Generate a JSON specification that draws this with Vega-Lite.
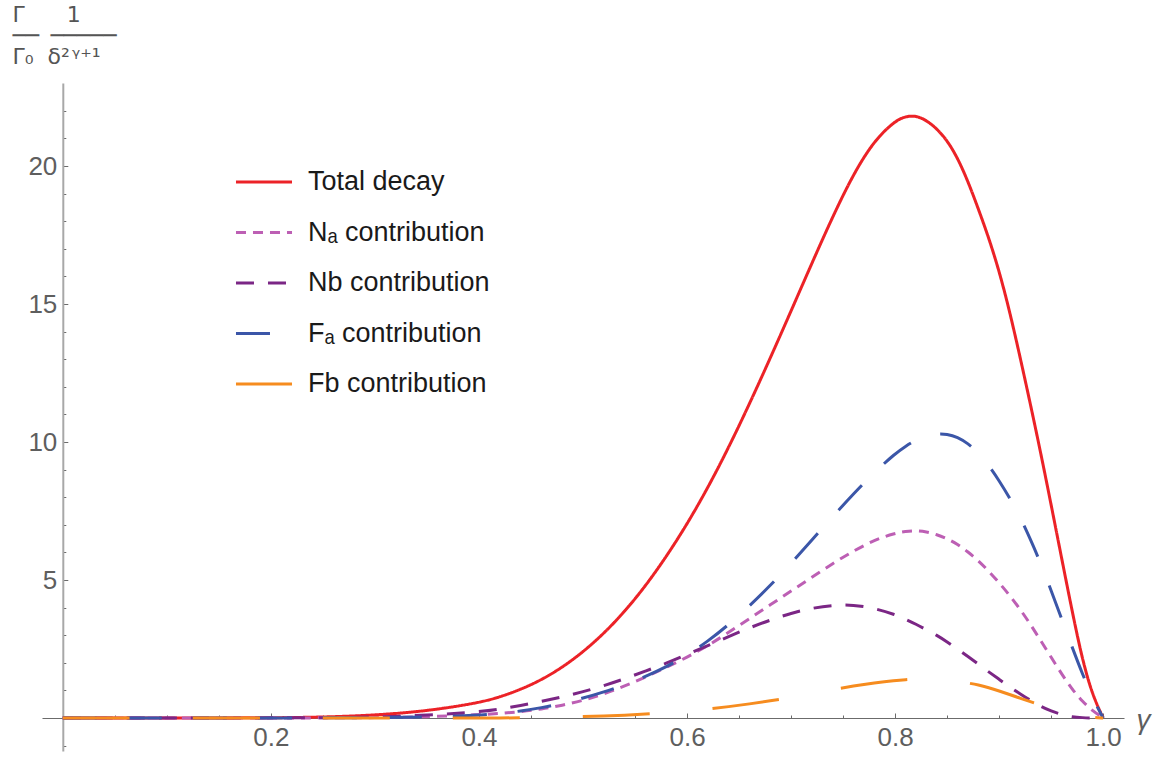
{
  "$schema": "https://vega.github.io/schema/vega-lite/v6.json",
  "width": 1082,
  "height": 668,
  "autosize": {"type": "none"},
  "padding": {"left": 42, "top": 83, "right": 31, "bottom": 10},
  "background": "white",
  "config": {"view": {"stroke": null}, "font": "Liberation Sans"},
  "data": {
    "values": [
      {"x": 0, "T": 0, "Na": 0, "Nb": 0, "Fa": 0, "Fb": 0},
      {"x": 0.1, "T": 0, "Na": 0, "Nb": 0, "Fa": 0, "Fb": 0},
      {"x": 0.2, "T": 0.005, "Na": 0, "Nb": 0.003, "Fa": 0, "Fb": 0},
      {"x": 0.25, "T": 0.03, "Na": 0.005, "Nb": 0.01, "Fa": 0.005, "Fb": 0},
      {"x": 0.3, "T": 0.1, "Na": 0.01, "Nb": 0.03, "Fa": 0.01, "Fb": 0},
      {"x": 0.35, "T": 0.25, "Na": 0.04, "Nb": 0.1, "Fa": 0.03, "Fb": 0},
      {"x": 0.4, "T": 0.55, "Na": 0.12, "Nb": 0.22, "Fa": 0.1, "Fb": 0},
      {"x": 0.42, "T": 0.76, "Na": 0.16, "Nb": 0.32, "Fa": 0.16, "Fb": 0.003},
      {"x": 0.44, "T": 1.03, "Na": 0.23, "Nb": 0.45, "Fa": 0.25, "Fb": 0.006},
      {"x": 0.46, "T": 1.38, "Na": 0.32, "Nb": 0.6, "Fa": 0.37, "Fb": 0.01},
      {"x": 0.48, "T": 1.83, "Na": 0.46, "Nb": 0.76, "Fa": 0.52, "Fb": 0.03},
      {"x": 0.5, "T": 2.39, "Na": 0.63, "Nb": 0.95, "Fa": 0.72, "Fb": 0.05},
      {"x": 0.52, "T": 3.06, "Na": 0.87, "Nb": 1.17, "Fa": 0.94, "Fb": 0.07},
      {"x": 0.54, "T": 3.85, "Na": 1.16, "Nb": 1.42, "Fa": 1.2, "Fb": 0.1},
      {"x": 0.56, "T": 4.78, "Na": 1.48, "Nb": 1.7, "Fa": 1.5, "Fb": 0.14},
      {"x": 0.58, "T": 5.84, "Na": 1.83, "Nb": 1.98, "Fa": 1.85, "Fb": 0.19},
      {"x": 0.6, "T": 7.02, "Na": 2.2, "Nb": 2.3, "Fa": 2.27, "Fb": 0.25},
      {"x": 0.62, "T": 8.34, "Na": 2.62, "Nb": 2.62, "Fa": 2.78, "Fb": 0.32},
      {"x": 0.64, "T": 9.8, "Na": 3.1, "Nb": 2.95, "Fa": 3.38, "Fb": 0.41},
      {"x": 0.66, "T": 11.38, "Na": 3.6, "Nb": 3.27, "Fa": 4.06, "Fb": 0.51},
      {"x": 0.68, "T": 13.04, "Na": 4.1, "Nb": 3.55, "Fa": 4.8, "Fb": 0.62},
      {"x": 0.7, "T": 14.75, "Na": 4.6, "Nb": 3.8, "Fa": 5.6, "Fb": 0.74},
      {"x": 0.72, "T": 16.48, "Na": 5.1, "Nb": 3.98, "Fa": 6.45, "Fb": 0.88},
      {"x": 0.74, "T": 18.17, "Na": 5.6, "Nb": 4.09, "Fa": 7.3, "Fb": 1.03},
      {"x": 0.76, "T": 19.72, "Na": 6.05, "Nb": 4.1, "Fa": 8.12, "Fb": 1.16},
      {"x": 0.78, "T": 20.93, "Na": 6.45, "Nb": 3.98, "Fa": 8.9, "Fb": 1.27},
      {"x": 0.8, "T": 21.64, "Na": 6.7, "Nb": 3.75, "Fa": 9.58, "Fb": 1.36},
      {"x": 0.81, "T": 21.8, "Na": 6.76, "Nb": 3.58, "Fa": 9.85, "Fb": 1.39},
      {"x": 0.82, "T": 21.83, "Na": 6.79, "Nb": 3.4, "Fa": 10.07, "Fb": 1.41},
      {"x": 0.83, "T": 21.66, "Na": 6.75, "Nb": 3.2, "Fa": 10.22, "Fb": 1.42},
      {"x": 0.84, "T": 21.36, "Na": 6.65, "Nb": 3.0, "Fa": 10.3, "Fb": 1.4},
      {"x": 0.85, "T": 20.93, "Na": 6.5, "Nb": 2.76, "Fa": 10.29, "Fb": 1.37},
      {"x": 0.86, "T": 20.3, "Na": 6.3, "Nb": 2.5, "Fa": 10.18, "Fb": 1.33},
      {"x": 0.87, "T": 19.45, "Na": 6.02, "Nb": 2.23, "Fa": 9.95, "Fb": 1.27},
      {"x": 0.88, "T": 18.45, "Na": 5.7, "Nb": 1.95, "Fa": 9.62, "Fb": 1.2},
      {"x": 0.89, "T": 17.4, "Na": 5.32, "Nb": 1.67, "Fa": 9.15, "Fb": 1.1},
      {"x": 0.9, "T": 16.2, "Na": 4.9, "Nb": 1.4, "Fa": 8.6, "Fb": 0.98},
      {"x": 0.91, "T": 14.75, "Na": 4.45, "Nb": 1.13, "Fa": 7.98, "Fb": 0.85},
      {"x": 0.92, "T": 13.1, "Na": 3.95, "Nb": 0.88, "Fa": 7.3, "Fb": 0.72},
      {"x": 0.93, "T": 11.38, "Na": 3.4, "Nb": 0.64, "Fa": 6.48, "Fb": 0.59},
      {"x": 0.94, "T": 9.6, "Na": 2.8, "Nb": 0.42, "Fa": 5.6, "Fb": 0.47},
      {"x": 0.95, "T": 7.72, "Na": 2.2, "Nb": 0.25, "Fa": 4.62, "Fb": 0.36},
      {"x": 0.96, "T": 5.8, "Na": 1.6, "Nb": 0.12, "Fa": 3.6, "Fb": 0.25},
      {"x": 0.97, "T": 3.9, "Na": 1.05, "Nb": 0.04, "Fa": 2.58, "Fb": 0.15},
      {"x": 0.98, "T": 2.1, "Na": 0.6, "Nb": 0.01, "Fa": 1.6, "Fb": 0.08},
      {"x": 0.99, "T": 0.8, "Na": 0.25, "Nb": 0, "Fa": 0.7, "Fb": 0.02},
      {"x": 1.0, "T": 0, "Na": 0, "Nb": 0, "Fa": 0, "Fb": 0}
    ]
  },
  "transform": [{"fold": ["T", "Na", "Nb", "Fa", "Fb"], "as": ["series", "value"]}],
  "mark": {"type": "line", "strokeWidth": 3, "interpolate": "basis"},
  "encoding": {
    "x": {
      "field": "x",
      "type": "quantitative",
      "scale": {"domain": [-0.02, 1.02], "nice": false, "zero": false},
      "axis": {
        "orient": "bottom",
        "offset": -33,
        "values": [0.05, 0.1, 0.15, 0.2, 0.25, 0.3, 0.35, 0.4, 0.45, 0.5, 0.55, 0.6, 0.65, 0.7, 0.75, 0.8, 0.85, 0.9, 0.95, 1.0],
        "grid": false,
        "domainColor": "#6b6b6b",
        "domainWidth": 1.2,
        "tickColor": "#6b6b6b",
        "tickWidth": 1,
        "tickSize": {"condition": {"test": "abs(datum.value*5-round(datum.value*5))<0.001", "value": -5}, "value": -3},
        "labelExpr": "abs(datum.value*5-round(datum.value*5))<0.001 ? format(datum.value,'.1f') : ''",
        "labelFont": "Liberation Sans",
        "labelFontSize": 26,
        "labelColor": "#5e5e5e",
        "labelPadding": 11,
        "labelOverlap": false,
        "labelFlush": false,
        "title": "γ",
        "titleFont": "Liberation Sans",
        "titleFontStyle": "italic",
        "titleFontWeight": "normal",
        "titleFontSize": 28,
        "titleColor": "#5e5e5e",
        "titleX": 1101,
        "titleY": 10,
        "titleAlign": "center",
        "titleBaseline": "alphabetic"
      }
    },
    "y": {
      "field": "value",
      "type": "quantitative",
      "scale": {"domain": [-1.196, 23.01], "nice": false, "zero": false},
      "axis": {
        "orient": "left",
        "offset": -20.8,
        "values": [-1, 1, 2, 3, 4, 5, 6, 7, 8, 9, 10, 11, 12, 13, 14, 15, 16, 17, 18, 19, 20, 21, 22],
        "grid": false,
        "domainColor": "#a8a8a8",
        "domainWidth": 2,
        "tickColor": "#6b6b6b",
        "tickWidth": 1,
        "tickSize": {"condition": {"test": "datum.value % 5 === 0", "value": -5}, "value": -3},
        "labelExpr": "datum.value % 5 === 0 && datum.value > 0 ? datum.label : ''",
        "labelFont": "Liberation Sans",
        "labelFontSize": 26,
        "labelColor": "#5e5e5e",
        "labelPadding": 11,
        "labelOverlap": false,
        "labelFlush": false,
        "title": ["\u00a0Γ\u00a0\u00a0\u00a0\u00a0\u00a0\u00a01", "──\u00a0\u2009─────", "Γ₀\u00a0\u00a0δ²\u200aᵞ⁺¹"],
        "titleFont": "DejaVu Sans",
        "titleFontSize": 22,
        "titleFontWeight": "normal",
        "titleColor": "#555555",
        "titleAngle": 0,
        "titleAlign": "left",
        "titleBaseline": "alphabetic",
        "titleLineHeight": 21,
        "titleX": -50.8,
        "titleY": -62
      }
    },
    "color": {
      "field": "series",
      "type": "nominal",
      "sort": ["T", "Na", "Nb", "Fa", "Fb"],
      "scale": {"domain": ["T", "Na", "Nb", "Fa", "Fb"], "range": ["#ec2227", "#bd5fb4", "#7b2685", "#3b56a8", "#f68c1f"]},
      "legend": {
        "orient": "none",
        "legendX": 197,
        "legendY": 74,
        "title": null,
        "padding": 0,
        "labelFont": "Liberation Sans",
        "labelFontSize": 27,
        "labelColor": "#1a1a1a",
        "labelLimit": 400,
        "labelOffset": 19,
        "symbolType": "M-1.2,0H1.2",
        "symbolSize": 2180,
        "symbolStrokeWidth": 3,
        "rowPadding": 12.5,
        "labelExpr": "datum.value==='T'?'Total decay':datum.value==='Na'?'Nₐ contribution':datum.value==='Nb'?'Nb contribution':datum.value==='Fa'?'Fₐ contribution':'Fb contribution'"
      }
    },
    "strokeDash": {
      "field": "series",
      "type": "nominal",
      "sort": ["T", "Na", "Nb", "Fa", "Fb"],
      "scale": {"domain": ["T", "Na", "Nb", "Fa", "Fb"], "range": [[1, 0], [10, 7], [18, 14], [34, 31], [67, 63]]},
      "legend": null
    }
  }
}
